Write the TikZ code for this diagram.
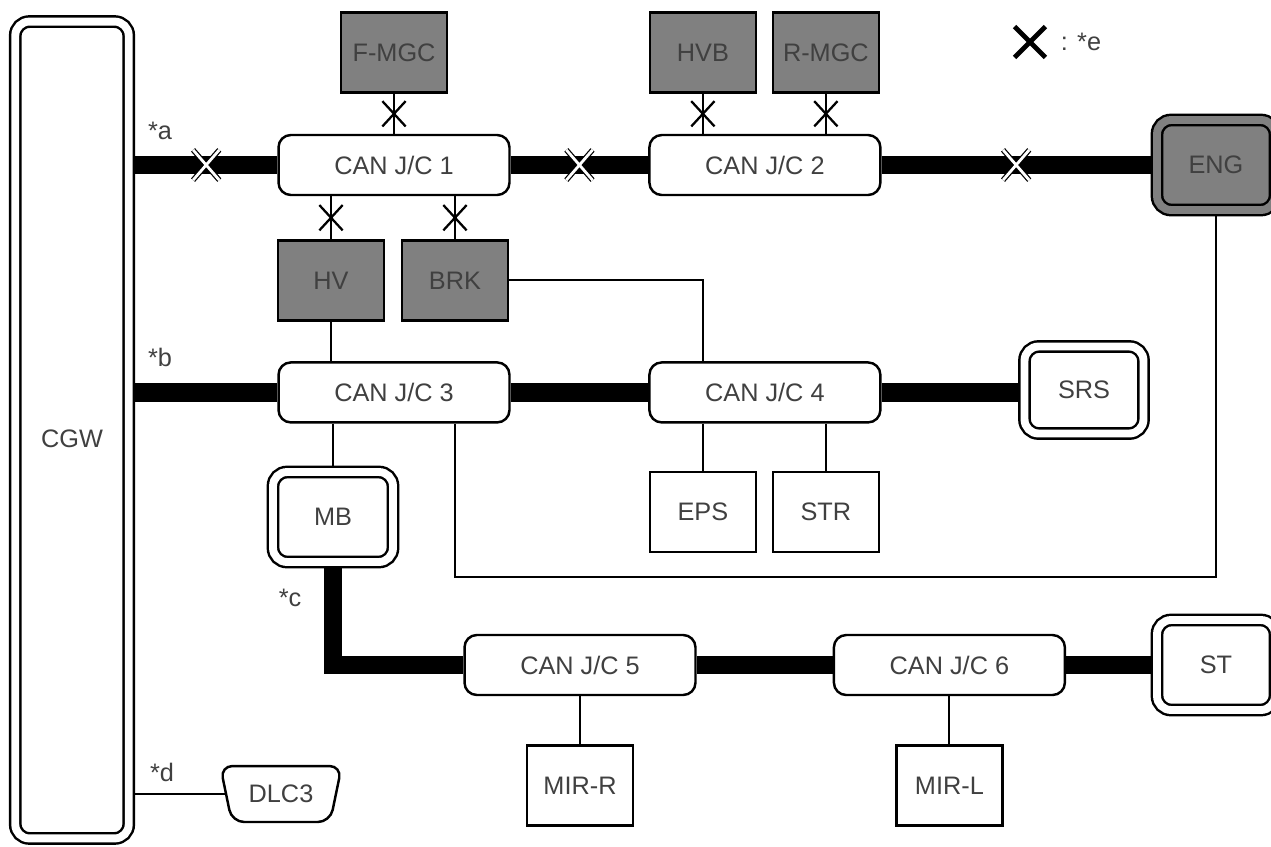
\documentclass[tikz,border=0pt]{standalone}
\usepackage{fontspec}
\setmainfont{Liberation Sans}
\usepackage{tikz}
\usetikzlibrary{positioning,shapes.geometric,shapes.misc}
\definecolor{ecugray}{RGB}{128,128,128}
\definecolor{txt}{RGB}{64,64,64}

\begin{document}
\begin{tikzpicture}[
  x=0.02cm, y=-0.02cm,
  base/.style={font=\fontsize{14.4pt}{17pt}\selectfont, text=txt, inner sep=0pt, line width=1.4pt},
  jc/.style={base, draw, rounded corners=7pt, fill=white, minimum width=4.62cm, minimum height=1.2cm},
  ecu/.style={base, draw, fill=ecugray, minimum width=2.12cm, minimum height=1.6cm},
  unit/.style={base, draw, fill=white, minimum width=2.12cm, minimum height=1.6cm},
  dbl/.style={base, draw, double=white, double distance=4.5pt, rounded corners=8pt, outer sep=3.6pt},
  bus/.style={line width=10.5pt},
  link/.style={line width=1.1pt},
  xmark/.style={draw, cross out, line width=1.3pt, minimum width=0.42cm, minimum height=0.46cm, inner sep=0pt},
  xbus/.style={draw, cross out, line width=0.7pt, double=white, double distance=1.6pt, minimum width=0.5cm, minimum height=0.58cm, inner sep=0pt},
  tag/.style={font=\fontsize{14.4pt}{17pt}\selectfont, text=txt, inner sep=0pt}
]
\useasboundingbox (0,0) rectangle (1271,846);

\node[dbl, minimum width=2.27cm, minimum height=16.34cm, text height=0.68cm, text depth=0pt] (cgw) at (72,430) {CGW};

\node[jc] (cj1) at (394,165) {CAN J/C 1};
\node[jc, right=2.75cm of cj1] (cj2) {CAN J/C 2};
\node[ecu, above=0.8cm of cj1] (fmgc) {F-MGC};
\node[ecu, above=0.8cm of cj2, xshift=-1.24cm] (hvb) {HVB};
\node[ecu, above=0.8cm of cj2, xshift=1.22cm] (rmgc) {R-MGC};
\node[dbl, fill=ecugray, double=ecugray, minimum width=2.36cm, minimum height=1.8cm] (eng) at (1216,165) {ENG};
\node[ecu, below=0.86cm of cj1, xshift=-1.26cm] (hv) {HV};
\node[ecu, below=0.86cm of cj1, xshift=1.22cm] (brk) {BRK};

\node[jc, below=3.3cm of cj1] (cj3) {CAN J/C 3};
\node[jc, right=2.75cm of cj3] (cj4) {CAN J/C 4};
\node[dbl, minimum width=2.38cm, minimum height=1.74cm] (srs) at (1084,390) {SRS};
\node[unit, below=0.94cm of cj4, xshift=-1.24cm] (eps) {EPS};
\node[unit, below=0.94cm of cj4, xshift=1.22cm] (str) {STR};
\node[dbl, minimum width=2.4cm, minimum height=1.8cm] (mb) at (333,517) {MB};

\node[jc] (cj5) at (580,665) {CAN J/C 5};
\node[jc, right=2.72cm of cj5] (cj6) {CAN J/C 6};
\node[dbl, minimum width=2.36cm, minimum height=1.8cm] (st) at (1216,665) {ST};
\node[unit, below=0.96cm of cj5] (mirr) {MIR-R};
\node[unit, below=0.96cm of cj6] (mirl) {MIR-L};
\node[base, draw, trapezium, shape border rotate=180, trapezium angle=67, trapezium stretches=true, rounded corners=7pt, minimum width=2.44cm, minimum height=1.12cm] (dlc) at (281,794) {DLC3};

\node[tag] (la) at (160,131) {*a};
\node[tag] (lb) at (160,357) {*b};
\node[tag] (lc) at (290,598) {*c};
\node[tag] (ld) at (162,772) {*d};
\node[draw, cross out, line width=2.8pt, minimum size=0.52cm, inner sep=0pt] (xkey) at (1030,42) {};
\node[tag, right=0.3cm of xkey] (lkey) {: *e};

\coordinate (engret) at (0,577);

% buses
\draw[bus] (cgw.east |- cj1) -- node[xbus] (xa) {} (cj1);
\draw[bus] (cj1) -- node[xbus] (xb) {} (cj2);
\draw[bus] (cj2.east) -- node[xbus] (xc) {} (eng.west |- cj2.east);
\draw[bus] (cgw.east |- cj3) -- (cj3);
\draw[bus] (cj3) -- (cj4);
\draw[bus] (cj4.east) -- (srs.west |- cj4.east);
\draw[bus] (mb.south) |- (cj5.west);
\draw[bus] (cj5) -- (cj6);
\draw[bus] (cj6.east) -- (st.west |- cj6.east);

% single lines
\draw[link] (fmgc) -- node[xmark] (xf) {} (fmgc |- cj1.north);
\draw[link] (hvb) -- node[xmark] (xh) {} (hvb |- cj2.north);
\draw[link] (rmgc) -- node[xmark] (xr) {} (rmgc |- cj2.north);
\draw[link] (hv |- cj1.south) -- node[xmark] (xhv) {} (hv);
\draw[link] (brk |- cj1.south) -- node[xmark] (xbrk) {} (brk);
\draw[link] (hv) -- (hv |- cj3.north);
\draw[link] (brk.east) -| (eps |- cj4.north);
\draw[link] (mb |- cj3.south) -- (mb);
\draw[link] (brk |- cj3.south) -- (brk |- engret) -| (eng);
\draw[link] (eps |- cj4.south) -- (eps);
\draw[link] (str |- cj4.south) -- (str);
\draw[link] (cj5) -- (mirr);
\draw[link] (cj6) -- (mirl);
\draw[link] (cgw.east |- dlc.west) -- (dlc.west);
\end{tikzpicture}
\end{document}
